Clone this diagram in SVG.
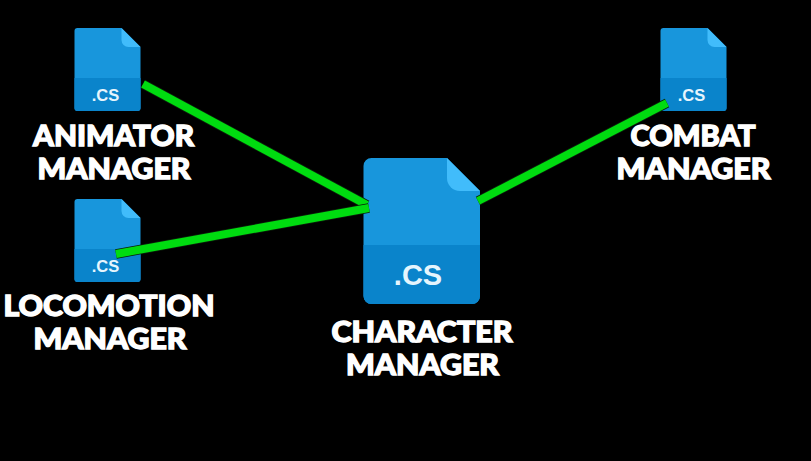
<svg xmlns="http://www.w3.org/2000/svg" width="811" height="461" viewBox="0 0 811 461">
<style>
.body{fill:#1896dc}.band{fill:#0a84cb}.fold{fill:#41bcfb}
.ext{font-family:"Liberation Sans",Arial,sans-serif;font-weight:700;fill:#e6f5fd;text-anchor:middle}
.lbl{font-family:Lato,"Liberation Sans",sans-serif;font-weight:900;fill:#fff;stroke:#fff;stroke-width:1.3;text-anchor:middle;font-size:28px}
.out{stroke:#0a1f0a;stroke-width:9.500;fill:none}.in{stroke:#00dc10;stroke-width:8;fill:none}
</style>
<defs>
<g id="file">
<path class="body" d="M3 0H47L66 19V80a3 3 0 0 1-3 3H3a3 3 0 0 1-3-3V3a3 3 0 0 1 3-3Z"/>
<path class="band" d="M0 50H66V80a3 3 0 0 1-3 3H3a3 3 0 0 1-3-3Z"/>
<path class="fold" d="M47 0L66 19H54a7 7 0 0 1-7-7Z"/>
<text class="ext" x="31" y="72.500" font-size="16.500">.CS</text>
</g>
</defs>
<rect width="811" height="461" fill="#000"/>
<g id="animator-manager">
<use href="#file" x="74.500" y="28"/>
<text class="lbl" x="113.500" y="145.500" textLength="161" lengthAdjust="spacingAndGlyphs">ANIMATOR</text>
<text class="lbl" x="114" y="178.500" textLength="153" lengthAdjust="spacingAndGlyphs">MANAGER</text>
</g>
<g id="locomotion-manager">
<use href="#file" x="74.500" y="199"/>
<text class="lbl" x="109" y="315.500" textLength="211" lengthAdjust="spacingAndGlyphs">LOCOMOTION</text>
<text class="lbl" x="110" y="349" textLength="153" lengthAdjust="spacingAndGlyphs">MANAGER</text>
</g>
<g id="combat-manager">
<use href="#file" x="660.500" y="28"/>
<text class="lbl" x="693" y="145.500" textLength="125" lengthAdjust="spacingAndGlyphs">COMBAT</text>
<text class="lbl" x="693.500" y="178.500" textLength="154" lengthAdjust="spacingAndGlyphs">MANAGER</text>
</g>
<g id="character-manager">
<path class="body" d="M371 158H447L480 191V296a8 8 0 0 1-8 8H371.500a8 8 0 0 1-8-8V166a8 8 0 0 1 8-8Z"/>
<path class="band" d="M363.500 245H480V296a8 8 0 0 1-8 8H371.500a8 8 0 0 1-8-8Z"/>
<path class="fold" d="M447 158L480 191H460a13 13 0 0 1-13-13Z"/>
<text class="ext" x="418" y="285" font-size="29">.CS</text>
<text class="lbl" x="422" y="342" textLength="181" lengthAdjust="spacingAndGlyphs">CHARACTER</text>
<text class="lbl" x="422.500" y="375" textLength="153" lengthAdjust="spacingAndGlyphs">MANAGER</text>
</g>
<g id="connectors">
<path class="out" d="M143 84L367 205"/><path class="in" d="M143 84L367 205"/>
<path class="out" d="M116 254L369 208"/><path class="in" d="M116 254L369 208"/>
<path class="out" d="M478 201L667 103"/><path class="in" d="M478 201L667 103"/>
</g>
</svg>
